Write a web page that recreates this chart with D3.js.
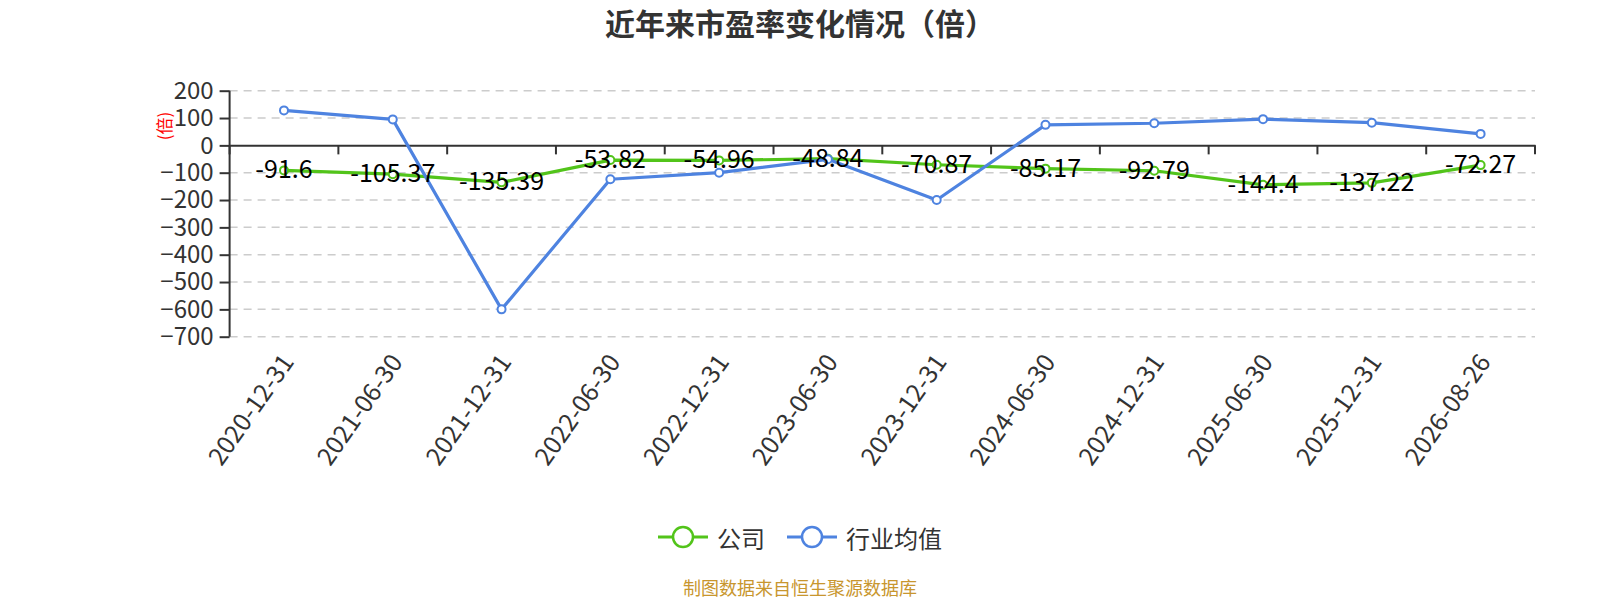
<!DOCTYPE html>
<html><head><meta charset="utf-8">
<script src="https://cdn.jsdelivr.net/npm/d3@7"></script>
<style>
html,body{margin:0;padding:0;background:#fff;}
svg{display:block;font-family:"Noto Sans CJK SC","Noto Sans",sans-serif;}
</style></head>
<body>
<svg id="c" width="1600" height="600"></svg>
<script>
const categories = ["2020-12-31","2021-06-30","2021-12-31","2022-06-30","2022-12-31","2023-06-30","2023-12-31","2024-06-30","2024-12-31","2025-06-30","2025-12-31","2026-08-26"];
const companyPE = [-91.6,-105.37,-135.39,-53.82,-54.96,-48.84,-70.87,-85.17,-92.79,-144.4,-137.22,-72.27];
const industryPE = [128,95,-600,-124,-100,-51,-200,75,81,96,83,42];
const yTicks = [200,100,0,-100,-200,-300,-400,-500,-600,-700];
const seriesNames = ["公司","行业均值"];
const colors = ["#52c41a","#4e83e0"];

const svg = d3.select("#c");
const L = 229.6, R = 1535, T = 90.7, B = 336.7;
const x = d3.scaleBand().domain(categories).range([L, R]);
const y = d3.scaleLinear().domain([-700, 200]).range([B, T]);
const cx = c => x(c) + x.bandwidth() / 2;

// title
svg.append("text").attr("x", 800).attr("y", 22).attr("text-anchor", "middle")
  .attr("dominant-baseline", "central").attr("font-size", 30).attr("font-weight", "bold")
  .attr("fill", "#333").text("近年来市盈率变化情况（倍）");

// grid
svg.append("g").selectAll("line").data(yTicks.filter(v => v !== 0)).join("line")
  .attr("x1", L).attr("x2", R).attr("y1", d => y(d)).attr("y2", d => y(d))
  .attr("stroke", "#cccccc").attr("stroke-width", 1.5).attr("stroke-dasharray", "8,6");

// y axis
const ya = svg.append("g").attr("transform", `translate(${L},0)`)
  .call(d3.axisLeft(y).tickValues(yTicks).tickSize(10).tickPadding(6));
ya.select(".domain").attr("stroke", "#333").attr("stroke-width", 2).attr("d", `M0,${T}V${B}`);
ya.selectAll(".tick line").attr("stroke", "#333").attr("stroke-width", 2);
ya.selectAll(".tick text").attr("font-size", 24).attr("fill", "#333")
  .attr("font-family", "'Noto Sans CJK SC','Noto Sans',sans-serif");

// y axis name
svg.append("text").attr("transform", `translate(163,126) rotate(-90)`)
  .attr("text-anchor", "middle").attr("dominant-baseline", "central")
  .attr("font-size", 17).attr("fill", "red").text("(倍)");

// x axis line at zero
const xa = svg.append("g").attr("transform", `translate(0,${y(0)})`)
  .call(d3.axisBottom(x).tickSize(0).tickFormat(""));
xa.select(".domain").attr("stroke", "#333").attr("stroke-width", 2);
const bounds = categories.map(c => x(c)).concat([x(categories[categories.length - 1]) + x.bandwidth()]);
svg.append("g").selectAll("line").data(bounds).join("line")
  .attr("x1", d => d).attr("x2", d => d).attr("y1", y(0)).attr("y2", y(0) + 9)
  .attr("stroke", "#333").attr("stroke-width", 2);

// x labels
svg.append("g").selectAll("text").data(categories).join("text")
  .attr("transform", d => `translate(${cx(d) + 2},${B + 19}) rotate(-55)`)
  .attr("text-anchor", "end").attr("dominant-baseline", "central")
  .attr("font-size", 25).attr("fill", "#333").text(d => d);

// lines
const series = [companyPE, industryPE];
const line = d3.line().x((d, i) => cx(categories[i])).y(d => y(d));
series.forEach((s, k) => {
  svg.append("path").datum(s).attr("d", line).attr("fill", "none")
    .attr("stroke", colors[k]).attr("stroke-width", 3.2).attr("stroke-linejoin", "round");
  svg.append("g").selectAll("circle").data(s).join("circle")
    .attr("cx", (d, i) => cx(categories[i])).attr("cy", d => y(d)).attr("r", 4)
    .attr("fill", "#fff").attr("stroke", colors[k]).attr("stroke-width", 2);
});

// company labels
svg.append("g").selectAll("text").data(companyPE).join("text")
  .attr("x", (d, i) => cx(categories[i])).attr("y", d => y(d) - 3)
  .attr("text-anchor", "middle").attr("dominant-baseline", "central")
  .attr("font-size", 25).attr("fill", "#000").text(d => d);

// legend
const legendItems = [
  {name: seriesNames[0], color: colors[0], lx: 658},
  {name: seriesNames[1], color: colors[1], lx: 787}
];
const ly = 537;
legendItems.forEach(it => {
  svg.append("line").attr("x1", it.lx).attr("x2", it.lx + 50).attr("y1", ly).attr("y2", ly)
    .attr("stroke", it.color).attr("stroke-width", 3);
  svg.append("circle").attr("cx", it.lx + 25).attr("cy", ly).attr("r", 10)
    .attr("fill", "#fff").attr("stroke", it.color).attr("stroke-width", 2.5);
  svg.append("text").attr("x", it.lx + 59).attr("y", ly).attr("dominant-baseline", "central")
    .attr("font-size", 24).attr("fill", "#333").text(it.name);
});

// footer
svg.append("text").attr("x", 800).attr("y", 587).attr("text-anchor", "middle")
  .attr("dominant-baseline", "central").attr("font-size", 18).attr("fill", "#c8962e")
  .text("制图数据来自恒生聚源数据库");
</script>
</body></html>
